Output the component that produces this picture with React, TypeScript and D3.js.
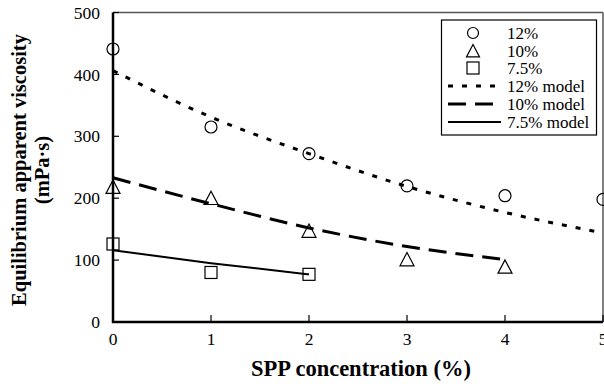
import React from "react";
import * as d3 from "d3";

const xTicks = [0, 1, 2, 3, 4, 5];
const yTicks = [0, 100, 200, 300, 400, 500];

const x12 = [0, 1, 2, 3, 4, 5];
const v12 = [441, 315, 272, 220, 204, 198];
const x10 = [0, 1, 2, 3, 4];
const v10 = [218, 200, 147, 101, 89];
const x75 = [0, 1, 2];
const v75 = [126, 80, 77];

const m12 = [406, 331, 272, 219, 177, 144];
const m10 = [233, 191, 152, 122, 101];
const m75 = [116, 95, 77];

const legendLabels = ["12%", "10%", "7.5%", "12% model", "10% model", "7.5% model"];

const W = 604, H = 384;
const L = 113, R = 603, T = 12.5, B = 322;

export default function App() {
  const xs = d3.scaleLinear().domain([0, 5]).range([L, R]);
  const ys = d3.scaleLinear().domain([0, 500]).range([B, T]);
  const line = d3.line<[number, number]>().x(d => xs(d[0])).y(d => ys(d[1])).curve(d3.curveMonotoneX);
  const zip = (a: number[], b: number[]) => a.map((v, i) => [v, b[i]] as [number, number]);
  const ff = { fontFamily: '"Liberation Serif", "Times New Roman", Times, serif' };
  const tri = (cx: number, cy: number, s = 7) => `M${cx},${cy - s}L${cx + s},${cy + s * 0.9}L${cx - s},${cy + s * 0.9}Z`;

  const lx0 = 448, lx1 = 498, ltx = 507;
  const ly = [33, 51, 68, 86, 104, 122];

  return (
    <svg width={W} height={H} style={{ position: "absolute", left: 0, top: 0, background: "#fff" }}>
      <rect x={0} y={0} width={W} height={H} fill="#fff" />
      {/* frame */}
      <line x1={L} y1={T} x2={R} y2={T} stroke="#555" strokeWidth={1.5} />
      <line x1={R} y1={T} x2={R} y2={B} stroke="#555" strokeWidth={1.5} />
      {/* models */}
      <path d={line(zip(xTicks, m12)) || ""} fill="none" stroke="#000" strokeWidth={3} strokeDasharray="5,9" />
      <path d={line(zip(x10, m10)) || ""} fill="none" stroke="#000" strokeWidth={3} strokeDasharray="18,9" />
      <path d={line(zip(x75, m75)) || ""} fill="none" stroke="#000" strokeWidth={2} />
      {/* points */}
      {x12.map((x, i) => (
        <circle key={"c" + i} cx={xs(x)} cy={ys(v12[i])} r={6} fill="none" stroke="#000" strokeWidth={1.2} />
      ))}
      {x10.map((x, i) => (
        <path key={"t" + i} d={tri(xs(x), ys(v10[i]))} fill="none" stroke="#000" strokeWidth={1.2} />
      ))}
      {x75.map((x, i) => (
        <rect key={"s" + i} x={xs(x) - 6} y={ys(v75[i]) - 6} width={12} height={12} fill="none" stroke="#000" strokeWidth={1.2} />
      ))}
      {/* axes */}
      <line x1={L} y1={T} x2={L} y2={B + 1} stroke="#000" strokeWidth={2.5} />
      <line x1={L - 1} y1={B} x2={R} y2={B} stroke="#000" strokeWidth={2.5} />
      {yTicks.map(t => (
        <g key={"y" + t}>
          <line x1={L} x2={L + 6} y1={ys(t)} y2={ys(t)} stroke="#000" strokeWidth={1.2} />
          <text x={100} y={ys(t)} dy="0.35em" textAnchor="end" fontSize={17.5} style={ff}>{t}</text>
        </g>
      ))}
      {xTicks.map(t => (
        <g key={"x" + t}>
          <line x1={xs(t)} x2={xs(t)} y1={B} y2={B - 7} stroke="#000" strokeWidth={1.2} />
          <text x={xs(t)} y={345} textAnchor="middle" fontSize={17.5} style={ff}>{t}</text>
        </g>
      ))}
      {/* titles */}
      <text x={361} y={376} textAnchor="middle" fontSize={22.5} fontWeight="bold" style={ff}>SPP concentration (%)</text>
      <g transform="translate(0,170) rotate(-90)">
        <text x={0} y={26} textAnchor="middle" fontSize={20.5} fontWeight="bold" style={ff}>Equilibrium apparent viscosity</text>
        <text x={0} y={49} textAnchor="middle" fontSize={20.5} fontWeight="bold" style={ff}>(mPa·s)</text>
      </g>
      {/* legend */}
      <rect x={441.5} y={20} width={155} height={115} fill="#fff" stroke="#000" strokeWidth={1.2} />
      <circle cx={473} cy={ly[0]} r={5.5} fill="none" stroke="#000" strokeWidth={1.2} />
      <path d={tri(473, ly[1], 6.5)} fill="none" stroke="#000" strokeWidth={1.2} />
      <rect x={467} y={ly[2] - 6} width={12} height={12} fill="none" stroke="#000" strokeWidth={1.2} />
      <line x1={lx0} x2={lx1} y1={ly[3]} y2={ly[3]} stroke="#000" strokeWidth={3} strokeDasharray="5,9" />
      <line x1={lx0} x2={lx1} y1={ly[4]} y2={ly[4]} stroke="#000" strokeWidth={3} strokeDasharray="18,9" />
      <line x1={lx0} x2={lx1 + 3} y1={ly[5]} y2={ly[5]} stroke="#000" strokeWidth={2} />
      {legendLabels.map((s, i) => (
        <text key={s} x={ltx} y={ly[i]} dy="0.33em" fontSize={17} style={ff}>{s}</text>
      ))}
    </svg>
  );
}
